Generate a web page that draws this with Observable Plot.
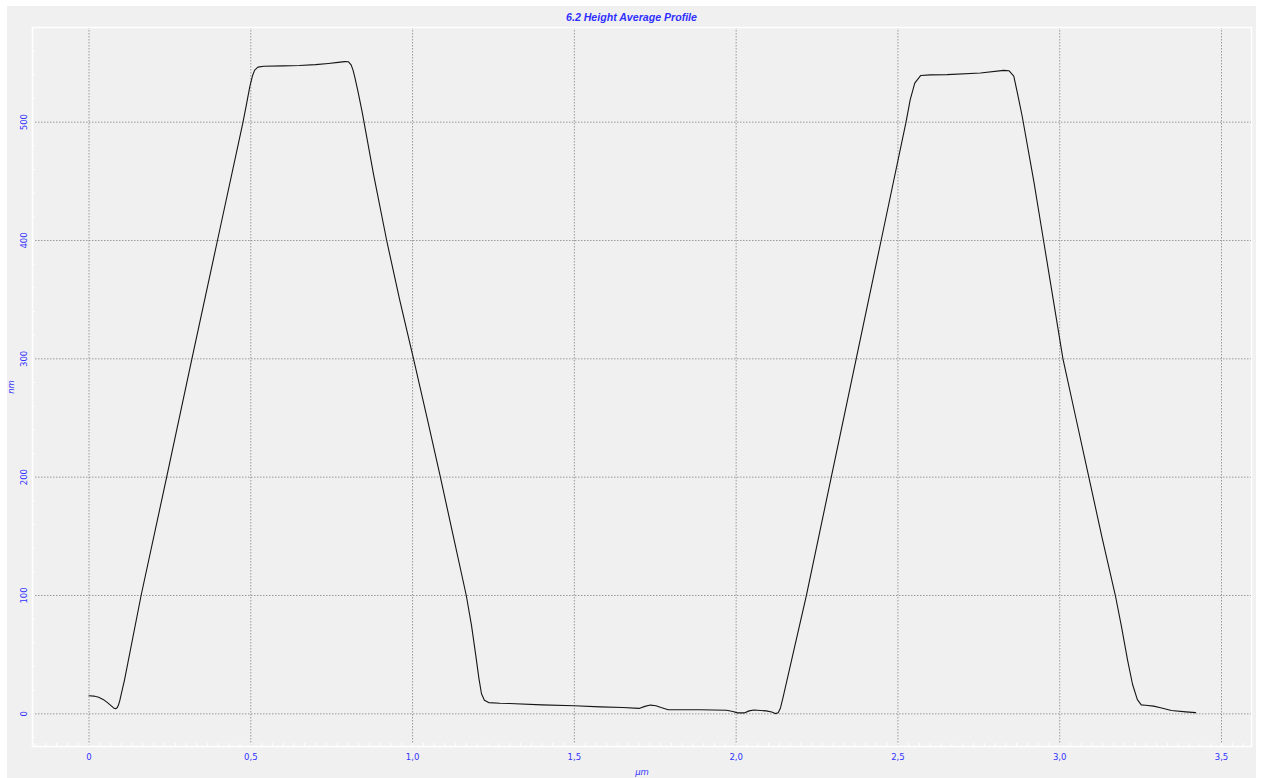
<!DOCTYPE html>
<html>
<head>
<meta charset="utf-8">
<script src="https://cdn.jsdelivr.net/npm/d3@7"></script>
<script src="https://cdn.jsdelivr.net/npm/@observablehq/plot@0.6"></script>
<style>
  html, body { margin: 0; padding: 0; background: #ffffff; }
  #wrap { position: absolute; left: 7px; top: 6px; width: 1249px; height: 772px; background: #f0f0f0; }
  #title { position: absolute; left: 0; top: 0; width: 1249px; height: 21px; line-height: 22px; text-align: center;
           font-family: "Liberation Sans", Arial, sans-serif; font-size: 10.6px; font-weight: bold; font-style: italic; color: #2f2fff; }
  #chart { position: absolute; left: 0; top: 0; }
</style>
</head>
<body>
<div id="wrap">
  <div id="chart"></div>
  <div id="title">6.2 Height Average Profile</div>
</div>
<script>
// ---- data (µm, nm) ----
const profileX = [0.000,0.015,0.030,0.045,0.058,0.068,0.076,0.082,0.087,0.091,0.095,0.100,0.110,0.161,0.240,0.318,0.397,0.476,0.488,0.497,0.505,0.512,0.522,0.540,0.600,0.650,0.700,0.740,0.770,0.790,0.802,0.810,0.816,0.822,0.832,0.844,0.880,0.920,0.960,1.003,1.045,1.086,1.126,1.166,1.182,1.195,1.205,1.213,1.222,1.235,1.270,1.300,1.400,1.500,1.580,1.650,1.700,1.718,1.735,1.752,1.768,1.790,1.890,1.970,1.990,2.004,2.025,2.040,2.055,2.093,2.110,2.121,2.130,2.137,2.145,2.217,2.294,2.371,2.448,2.525,2.538,2.552,2.570,2.600,2.652,2.755,2.827,2.843,2.858,2.869,2.884,2.920,2.950,2.980,3.010,3.050,3.090,3.130,3.172,3.190,3.210,3.225,3.240,3.252,3.265,3.290,3.315,3.345,3.390,3.420];
const profileY = [15.3,15.0,14.0,12.0,9.3,7.0,5.0,4.3,5.2,7.5,11,17,29,100,200,300,400,500,517,530,539,544,546.5,547.3,547.6,547.9,548.6,549.6,550.5,551.2,551.0,548.5,544,537.5,525,509,455,400,350,300,250,200,150,100,75,50,30,17,11.5,9.5,9.0,8.8,7.6,6.8,5.9,5.3,4.6,6.3,7.4,6.9,5.3,3.4,3.4,3.0,2.0,0.8,0.8,2.5,3.2,2.5,1.5,0.2,1.0,5,14,100,200,300,400,500,519,533,539.4,540,540.2,541.6,543.8,543.5,539,525,505,450,400,350,300,250,200,150,100,75,45,25,12,7.6,7.2,6.5,5.0,2.8,1.7,1.0];

const xTicks = [0, 0.5, 1.0, 1.5, 2.0, 2.5, 3.0, 3.5];
const xTickLabels = ["0", "0,5", "1,0", "1,5", "2,0", "2,5", "3,0", "3,5"];
const yTicks = [0, 100, 200, 300, 400, 500];
const yTickLabels = ["0", "100", "200", "300", "400", "500"];
const xMinor = d3.range(-5, 108).map(i => i * 0.5 / 15).filter(v => v > -0.174 && v < 3.592);
const yMinor = d3.range(-1, 29).map(i => i * 20);
const xLabel = "µm";
const yLabel = "nm";

const data = profileX.map((x, i) => ({x, y: profileY[i]}));

const blue = "#3232ff";
const tickFont = "DejaVu Sans, sans-serif";

const W = 1249, H = 772;
const mL = 25, mR = 5, mT = 21, mB = 32;
const frameW = W - mL - mR, frameH = H - mT - mB;

const chart = Plot.plot({
  width: W,
  height: H,
  marginLeft: mL,
  marginRight: mR,
  marginTop: mT,
  marginBottom: mB,
  style: {background: "transparent", overflow: "visible"},
  x: {domain: [-0.1746, 3.5927], axis: null},
  y: {domain: [-27.6, 580], axis: null},
  marks: [
    Plot.gridX(xTicks, {stroke: "#9a9a9a", strokeOpacity: 1, strokeDasharray: "1.5,1.5", strokeWidth: 1}),
    Plot.gridY(yTicks, {stroke: "#9a9a9a", strokeOpacity: 1, strokeDasharray: "1.5,1.5", strokeWidth: 1}),
    Plot.frame({stroke: "#ffffff", strokeWidth: 1.5}),
    Plot.tickX(xMinor, {x: d => d, stroke: "#ffffff", strokeWidth: 1, insetTop: frameH - 3}),
    Plot.tickY(yMinor, {y: d => d, stroke: "#ffffff", strokeWidth: 1, insetRight: frameW - 3}),
    Plot.line(data, {x: "x", y: "y", stroke: "#151515", strokeWidth: 1.1}),
    Plot.text(xTicks, {x: d => d, text: (d, i) => xTickLabels[i], frameAnchor: "bottom", dy: 11, lineAnchor: "middle",
                       fill: blue, fontSize: 8.5, fontFamily: tickFont}),
    Plot.text(yTicks, {y: d => d, text: (d, i) => yTickLabels[i], frameAnchor: "left", dx: -8.5, rotate: -90,
                       textAnchor: "middle", lineAnchor: "middle", fill: blue, fontSize: 8.5, fontFamily: tickFont}),
    Plot.text([xLabel], {text: d => d, frameAnchor: "bottom", dy: 25.5, lineAnchor: "middle", fill: blue,
                         fontSize: 8.5, fontStyle: "italic", fontFamily: tickFont}),
    Plot.text([yLabel], {text: d => d, frameAnchor: "left", dx: -21.5, rotate: -90, textAnchor: "middle",
                         lineAnchor: "middle", fill: blue, fontSize: 8.5, fontStyle: "italic", fontFamily: tickFont})
  ]
});
document.getElementById("chart").appendChild(chart);
</script>
</body>
</html>
